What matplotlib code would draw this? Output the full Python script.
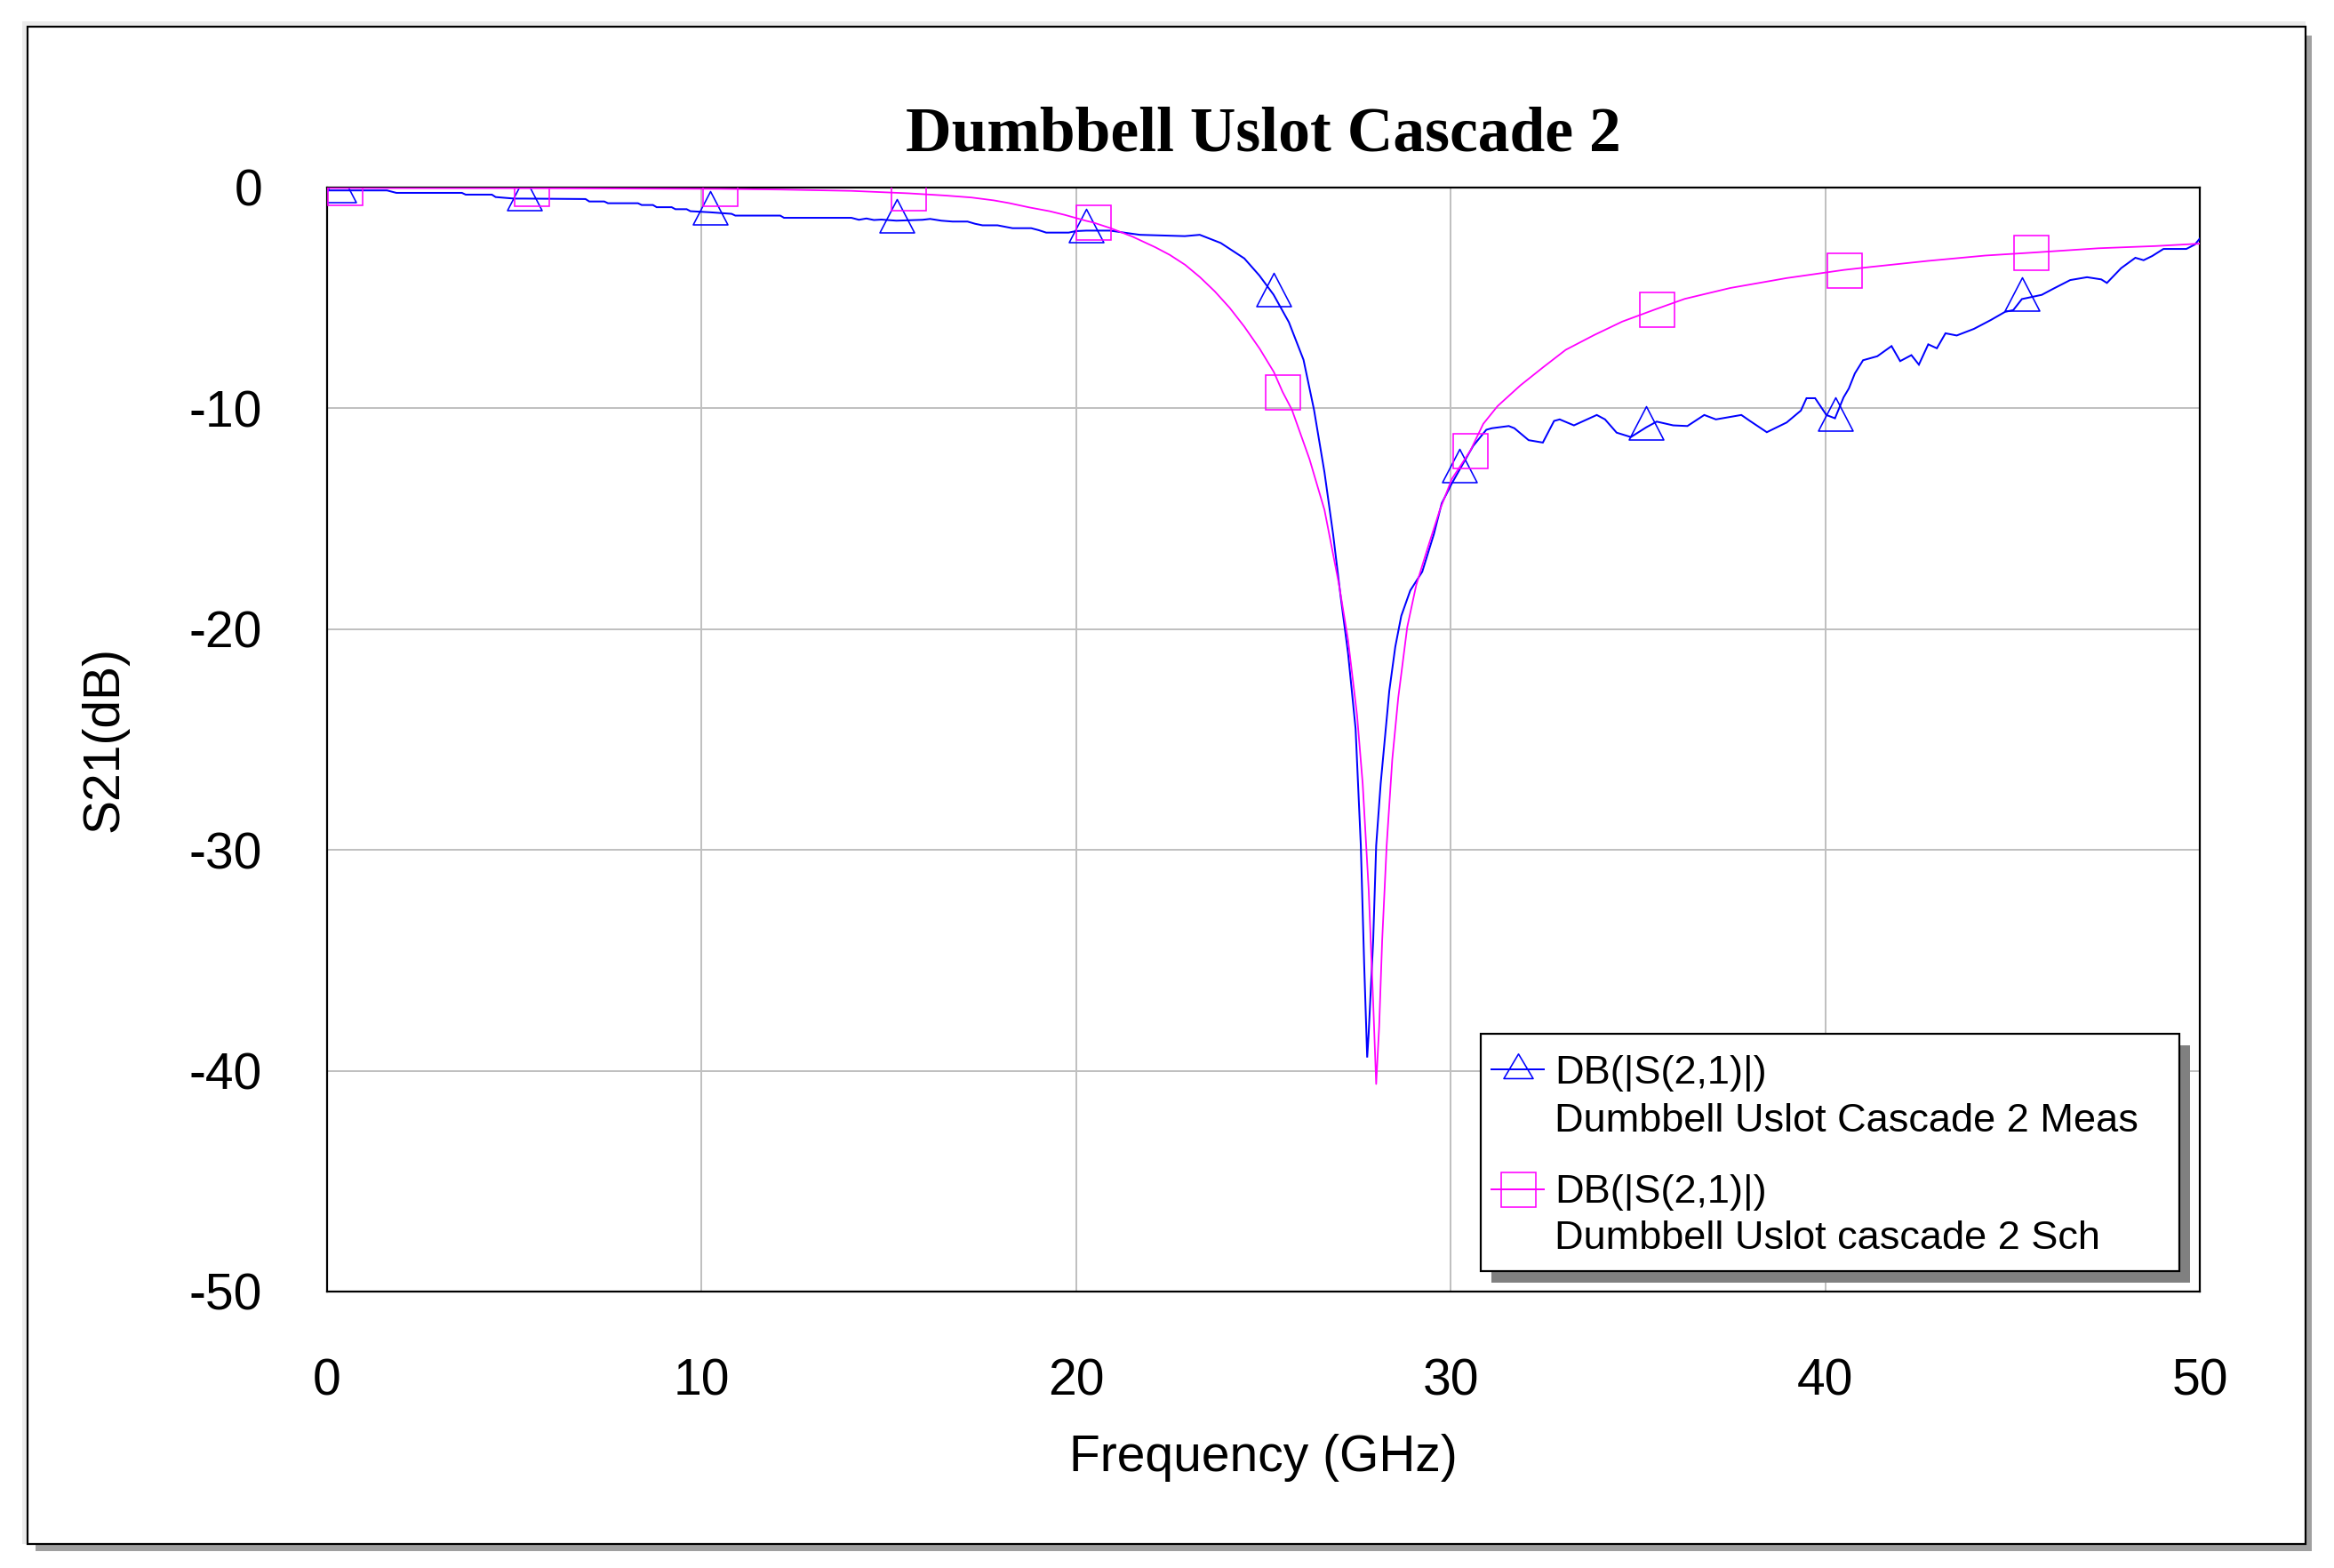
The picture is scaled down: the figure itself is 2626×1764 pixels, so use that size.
import numpy as np
import matplotlib
matplotlib.use("Agg")
import matplotlib.pyplot as plt
from matplotlib.path import Path
from matplotlib.patches import Rectangle
from matplotlib.lines import Line2D

# ---------------- data ----------------
freq_meas = [0.0, 0.3, 1.6, 1.85, 3.6, 3.7, 4.4, 4.5, 5.0, 5.27, 6.9, 7.0, 7.4, 7.5,
             8.3, 8.4, 8.7, 8.8, 9.2, 9.3, 9.6, 9.7, 10.23, 10.8, 10.9, 12.1, 12.2,
             14.0, 14.2, 14.4, 14.6, 14.8, 15.2, 15.9, 16.1, 16.4, 16.7, 17.1, 17.3,
             17.5, 17.9, 18.3, 18.8, 19.0, 19.2, 19.8, 20.0, 20.27, 20.9, 21.7, 22.9,
             23.3, 23.86, 24.49, 24.89, 25.27, 25.68, 26.07, 26.35, 26.63, 26.86,
             27.06, 27.26, 27.46, 27.60, 27.69, 27.77, 27.81, 27.93, 28.01, 28.13,
             28.25, 28.36, 28.52, 28.68, 28.92, 29.24, 29.55, 29.76, 30.03, 30.23,
             30.6, 30.95, 31.1, 31.55, 31.70, 32.08, 32.46, 32.76, 32.91, 33.29,
             33.90, 34.12, 34.43, 34.81, 35.22, 35.5, 35.94, 36.32, 36.77, 37.08,
             37.76, 37.99, 38.44, 38.97, 39.35, 39.50, 39.73, 40.03, 40.26, 40.49,
             40.63, 40.79, 41.01, 41.39, 41.77, 42.0, 42.30, 42.50, 42.75, 42.98,
             43.21, 43.51, 43.97, 44.42, 44.80, 45.02, 45.25, 45.78, 46.08, 46.54,
             46.99, 47.37, 47.52, 47.90, 48.28, 48.50, 48.73, 49.03, 49.64, 49.87, 50.0]
s21_meas = [-0.13, -0.13, -0.13, -0.24, -0.24, -0.32, -0.32, -0.43, -0.50, -0.50, -0.52,
            -0.63, -0.63, -0.71, -0.71, -0.79, -0.79, -0.89, -0.89, -0.98, -0.98, -1.07,
            -1.12, -1.19, -1.27, -1.27, -1.37, -1.37, -1.46, -1.40, -1.47, -1.45, -1.50,
            -1.46, -1.42, -1.50, -1.54, -1.54, -1.64, -1.71, -1.71, -1.84, -1.84, -1.93,
            -2.04, -2.04, -1.97, -1.95, -1.95, -2.14, -2.20, -2.14, -2.51, -3.21, -3.98,
            -4.85, -6.1, -7.8, -10.06, -12.9, -15.7, -18.5, -21.1, -24.5, -29.8, -35.2,
            -39.4, -38.3, -34.1, -29.8, -27.0, -24.8, -22.8, -20.8, -19.4, -18.25,
            -17.4, -15.7, -14.3, -13.4, -12.8, -11.7, -10.97, -10.9, -10.8, -10.9,
            -11.44, -11.55, -10.57, -10.5, -10.77, -10.3, -10.5, -11.1, -11.3, -10.86,
            -10.6, -10.77, -10.8, -10.3, -10.5, -10.3, -10.57, -11.08, -10.64, -10.1,
            -9.54, -9.54, -10.3, -10.45, -9.5, -9.1, -8.42, -7.82, -7.64, -7.18, -7.86,
            -7.59, -8.02, -7.1, -7.28, -6.6, -6.7, -6.4, -6.0, -5.63, -5.55, -5.05,
            -4.86, -4.59, -4.19, -4.06, -4.16, -4.32, -3.65, -3.18, -3.29, -3.1, -2.78,
            -2.78, -2.58, -2.31]
marker_freq_meas = [0.3, 5.27, 10.23, 15.2, 20.27, 25.27, 30.23, 35.22, 40.26, 45.25]

freq_sim = [0.0, 0.47, 5.46, 7.2, 10.5, 12.1, 14.0, 15.52, 16.5, 17.2, 17.8, 18.2,
            18.75, 19.29, 19.70, 20.25, 20.45, 20.92, 21.5, 22.12, 22.5, 22.91, 23.3,
            23.70, 24.1, 24.49, 24.9, 25.28, 25.51, 25.76, 26.23, 26.63, 27.02, 27.26,
            27.50, 27.65, 27.81, 27.93, 28.01, 28.09, 28.17, 28.29, 28.44, 28.60,
            28.84, 29.08, 29.39, 29.71, 30.03, 30.52, 30.87, 31.25, 31.86, 32.46,
            33.07, 33.83, 34.58, 35.49, 36.25, 37.46, 38.97, 40.5, 41.24, 42.75,
            44.27, 45.5, 47.29, 48.81, 50.0]
s21_sim = [-0.02, -0.02, -0.03, -0.04, -0.06, -0.09, -0.15, -0.26, -0.36, -0.45,
           -0.58, -0.70, -0.90, -1.07, -1.24, -1.50, -1.58, -1.84, -2.22, -2.71,
           -3.05, -3.50, -4.05, -4.70, -5.45, -6.30, -7.30, -8.36, -9.25, -10.06,
           -12.3, -14.6, -18.0, -20.5, -23.9, -27.0, -31.8, -36.9, -40.6, -38.0,
           -34.1, -29.8, -25.9, -23.1, -19.9, -18.0, -16.3, -14.6, -13.2, -11.93,
           -10.7, -9.9, -8.96, -8.15, -7.35, -6.68, -6.07, -5.5, -5.04, -4.55, -4.1,
           -3.73, -3.59, -3.32, -3.08, -2.95, -2.75, -2.65, -2.54]
marker_freq_sim = [0.47, 5.46, 10.5, 15.52, 20.45, 25.51, 30.52, 35.49, 40.5, 45.5]

x_ticks = [0, 10, 20, 30, 40, 50]
y_ticks = [0, -10, -20, -30, -40, -50]
title_text = "Dumbbell Uslot Cascade 2"
x_label = "Frequency (GHz)"
y_label = "S21(dB)"
legend_lines = [("DB(|S(2,1)|)", "Dumbbell Uslot Cascade 2 Meas"),
                ("DB(|S(2,1)|)", "Dumbbell Uslot cascade 2 Sch")]

# ---------------- styling ----------------
W, H, DPI = 2626, 1764, 100
PT = 72.0 / DPI          # points per pixel
BLUE = "#0000FF"
MAGENTA = "#FF00FF"
GRID = "#C0C0C0"
SANS = ["Liberation Sans", "DejaVu Sans"]
SERIF = ["Liberation Serif", "DejaVu Serif"]
plt.rcParams["axes.unicode_minus"] = False


def fx(px):
    return px / W


def fy(py):
    return 1.0 - py / H


def tri_marker(w, h, frac):
    # triangle whose anchor sits 'frac' of its height below the apex (pixels)
    top = frac * h
    bot = -(1 - frac) * h
    verts = [(0, top), (-w / 2, bot), (w / 2, bot), (0, top)]
    path = Path(verts, [Path.MOVETO, Path.LINETO, Path.LINETO, Path.CLOSEPOLY])
    size_px = 2 * max(abs(top), abs(bot), w / 2)
    return path, size_px * PT


fig = plt.figure(figsize=(W / DPI, H / DPI), dpi=DPI)

# outer frame with light bevel and shadow
fig.add_artist(Rectangle((fx(25), fy(1737)), fx(2594) - fx(25), (1737 - 24) / H,
                         transform=fig.transFigure, facecolor="#EBEBEB",
                         edgecolor="none", zorder=-3))
fig.add_artist(Rectangle((fx(40), fy(1745)), fx(2601) - fx(40), (1745 - 40) / H,
                         transform=fig.transFigure, facecolor="#A0A0A0",
                         edgecolor="none", zorder=-3))
fig.add_artist(Rectangle((fx(31), fy(1737)), fx(2594) - fx(31), (1737 - 30) / H,
                         transform=fig.transFigure, facecolor="white",
                         edgecolor="black", linewidth=2.2 * PT, zorder=-2))

ax_left, ax_right, ax_top, ax_bottom = 368, 2475, 211, 1453
ax = fig.add_axes([fx(ax_left), fy(ax_bottom), (ax_right - ax_left) / W,
                   (ax_bottom - ax_top) / H])
ax.set_facecolor("white")

ax.set_xlim(0, 50)
ax.set_ylim(-50, 0)
ax.set_xticks(x_ticks)
ax.set_yticks(y_ticks)
ax.set_xticklabels([str(v) for v in x_ticks])
ax.set_yticklabels([str(v) for v in y_ticks])
ax.tick_params(axis="both", length=0, labelsize=41)
ax.tick_params(axis="x", pad=75 * PT)
ax.tick_params(axis="y", pad=73 * PT)
for lab in ax.get_xticklabels() + ax.get_yticklabels():
    lab.set_fontfamily(SANS)

ax.grid(True, color=GRID, linewidth=2 * PT)
ax.set_axisbelow(True)
for sp in ax.spines.values():
    sp.set_linewidth(2.2 * PT)
    sp.set_color("black")

tri_path, tri_ms = tri_marker(39, 37.5, 0.64)
sq_ms = 39 * PT


def nearest_indices(freqs, targets):
    arr = np.asarray(freqs)
    return [int(np.argmin(np.abs(arr - t))) for t in targets]


ax.plot(freq_meas, s21_meas, color=BLUE, linewidth=2 * PT, marker=tri_path,
        markersize=tri_ms, markerfacecolor="none", markeredgecolor=BLUE,
        markeredgewidth=1.6 * PT, markevery=nearest_indices(freq_meas, marker_freq_meas),
        zorder=3, solid_joinstyle="miter")
ax.plot(freq_sim, s21_sim, color=MAGENTA, linewidth=1.8 * PT, marker="s",
        markersize=sq_ms, markerfacecolor="none", markeredgecolor=MAGENTA,
        markeredgewidth=1.6 * PT, markevery=nearest_indices(freq_sim, marker_freq_sim),
        zorder=3)

# title and axis labels
ax.text(0.5, (ax_bottom - 170) / (ax_bottom - ax_top), title_text,
        transform=ax.transAxes, ha="center", va="baseline",
        fontsize=51.5, fontweight="bold", fontfamily=SERIF)
ax.set_xlabel(x_label, fontsize=41, fontfamily=SANS)
ax.xaxis.label.set_va("baseline")
ax.xaxis.set_label_coords(0.5, -(1655 - ax_bottom) / (ax_bottom - ax_top))
ax.set_ylabel(y_label, fontsize=41, fontfamily=SANS)
ax.yaxis.label.set_va("center")
ax.yaxis.set_label_coords(-(ax_left - 117) / (ax_right - ax_left), 0.5)

# legend (drawn manually to match the two-line entries)
lx0, ly0, lx1, ly1 = 1666, 1163, 2452, 1430
fig.add_artist(Rectangle((fx(lx0 + 12), fy(ly1 + 13)), (lx1 - lx0) / W, (ly1 - ly0) / H,
                         transform=fig.transFigure, facecolor="#808080",
                         edgecolor="none", zorder=5))
fig.add_artist(Rectangle((fx(lx0), fy(ly1)), (lx1 - lx0) / W, (ly1 - ly0) / H,
                         transform=fig.transFigure, facecolor="white",
                         edgecolor="black", linewidth=2.2 * PT, zorder=6))

leg_tri_path, leg_tri_ms = tri_marker(33, 27.7, 0.64)
handle_y = [1202.7, 1338.3]
handle_styles = [
    dict(color=BLUE, marker=leg_tri_path, markersize=leg_tri_ms),
    dict(color=MAGENTA, marker="s", markersize=sq_ms),
]
for hy, st in zip(handle_y, handle_styles):
    fig.add_artist(Line2D([fx(1678), fx(1708), fx(1737)], [fy(hy)] * 3,
                          transform=fig.transFigure, linewidth=2 * PT,
                          markerfacecolor="none", markeredgecolor=st["color"],
                          markeredgewidth=1.6 * PT, markevery=[1], zorder=7, **st))

baselines = [(1219, 1272.7), (1353.3, 1405)]
for (l1, l2), (b1, b2) in zip(legend_lines, baselines):
    fig.text(fx(1749), fy(b1), l1, fontsize=32.5, fontfamily=SANS,
             va="baseline", ha="left", zorder=8)
    fig.text(fx(1749), fy(b2), l2, fontsize=32.5, fontfamily=SANS,
             va="baseline", ha="left", zorder=8)

fig.savefig("out.png", dpi=DPI, facecolor="white")
